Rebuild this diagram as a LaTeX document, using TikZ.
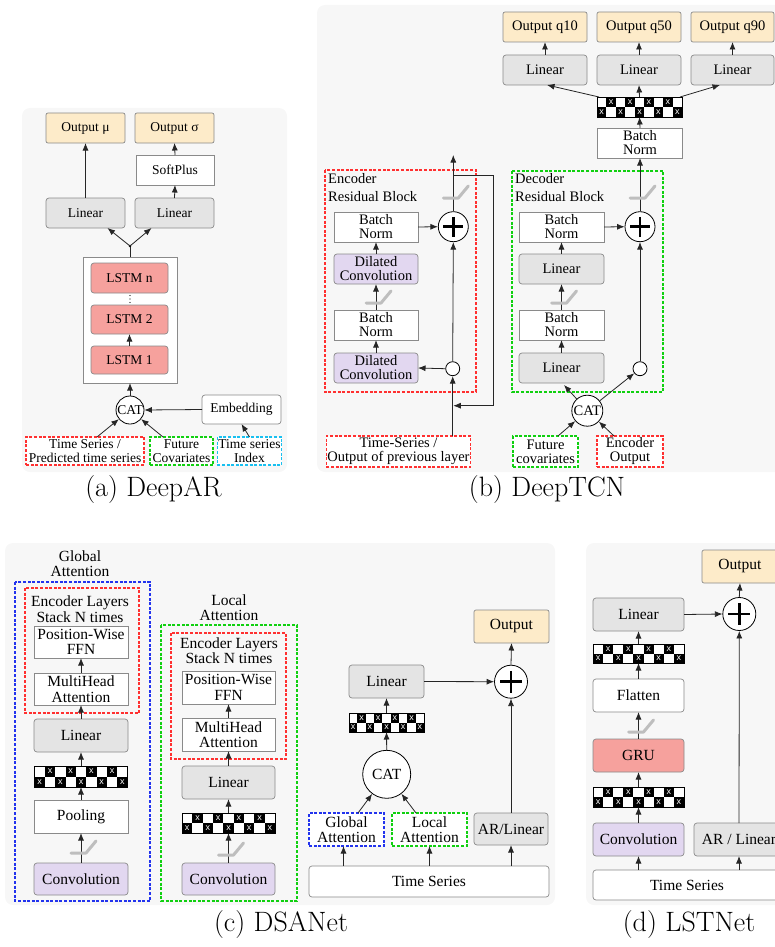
\documentclass[tikz,border=0pt]{standalone}
\usepackage{fontspec}
\newfontfamily\tf{Liberation Serif}
\newfontfamily\xf{Liberation Sans}
\usetikzlibrary{arrows.meta,calc}
\definecolor{bgc}{HTML}{F7F7F7}
\definecolor{bgray}{HTML}{8A8A8A}
\definecolor{agray}{HTML}{262626}
\definecolor{ofill}{HTML}{FDEBC9}
\definecolor{gfill}{HTML}{E4E4E4}
\definecolor{rfill}{HTML}{F6A19D}
\definecolor{pfill}{HTML}{E2D7F0}
\definecolor{dred}{HTML}{FF3030}
\definecolor{dgreen}{HTML}{10D010}
\definecolor{dblue}{HTML}{2233EE}
\definecolor{dcyan}{HTML}{18C0F0}
\definecolor{relugray}{HTML}{BEBEBE}
\tikzset{
  box/.style={draw=bgray, line width=0.7pt, align=center, inner sep=1pt, outer sep=0pt},
  sqbox/.style={box, fill=white},
  wrbox/.style={box, fill=white, rounded corners=3pt},
  gbox/.style={box, fill=gfill, rounded corners=3pt},
  obox/.style={box, fill=ofill, rounded corners=2pt},
  rbox/.style={box, fill=rfill, rounded corners=3pt},
  pbox/.style={box, fill=pfill, rounded corners=3pt},
  dbox/.style={draw=#1, dash pattern=on 3pt off 1.6pt, line width=1.15pt, fill=white, align=center, inner sep=1pt, outer sep=0pt},
  grp/.style={draw=#1, dash pattern=on 3pt off 1.6pt, line width=1.15pt},
  arr/.style={draw=agray, line width=0.8pt, -{Latex[length=7.5pt,width=6pt]}},
  ln/.style={draw=agray, line width=0.8pt},
  catn/.style={circle, draw=black, line width=0.8pt, fill=white, inner sep=0pt},
  relu/.style={draw=relugray, line width=3pt, line cap=round, line join=round},
  sz/.style 2 args={minimum width=#1, minimum height=#2},
  fa/.style={font=\tf\fontsize{13.5}{13.5}\selectfont},
  fb/.style={font=\tf\fontsize{14.5}{14}\selectfont},
  fc/.style={font=\tf\fontsize{15.5}{15.5}\selectfont},
  captxt/.style={font=\fontsize{28}{28}\selectfont},
  lbl/.style={inner sep=0pt, align=center}
}
\newcommand\dropblock[5]{%
  \node[sz={#4}{#5}, inner sep=0pt, outer sep=0pt, fill=white] (#1) at (#2,#3) {};
  \foreach \i in {0,...,8}{\foreach \j in {0,1}{%
    \pgfmathsetmacro\xa{#2-#4/2+\i*#4/9}%
    \pgfmathsetmacro\xb{\xa+#4/9}%
    \pgfmathsetmacro\ya{#3-#5/2+\j*#5/2}%
    \pgfmathsetmacro\yb{\ya+#5/2}%
    \pgfmathtruncatemacro\pp{mod(\i+\j,2)}%
    \ifnum\pp=1
      \fill[black] (\xa,\ya) rectangle (\xb,\yb);
      \node[inner sep=0pt, text=white, font=\xf\fontsize{9}{9}\selectfont] at ({(\xa+\xb)/2},{(\ya+\yb)/2}) {x};
    \fi
  }}
  \draw[line width=0.6pt] (#1.north west) rectangle (#1.south east);
}
\newcommand\plusnode[4]{%
  \node[catn, minimum size=#4] (#1) at (#2,#3) {};
  \draw[line width=2.6pt] ($(#1.center)+(-0.33*#4,0)$) -- ($(#1.center)+(0.33*#4,0)$);
  \draw[line width=2.6pt] ($(#1.center)+(0,-0.33*#4)$) -- ($(#1.center)+(0,0.33*#4)$);
}
\newcommand\relusym[2]{%
  \draw[relu] ({#1-10},{#2+6}) -- ({#1+5},{#2+6}) -- ({#1+15},{#2-6});
}
\begin{document}
\begin{tikzpicture}[x=1pt,y=-1pt]
\useasboundingbox (0,0) rectangle (775,947);
% backgrounds
\fill[bgc, rounded corners=8pt] (22,108) rectangle (287,472);
\fill[bgc, rounded corners=8pt] (317,5) rectangle (790,472);
\fill[bgc, rounded corners=8pt] (5,543) rectangle (555,905);
\fill[bgc, rounded corners=8pt] (586,543) rectangle (790,905);

% ================= (a) DeepAR
\begin{scope}[every node/.append style={fa}]
\node[obox, sz={79}{30}] (a-o1) at (85.5,128) {Output μ};
\node[obox, sz={79}{30}] (a-o2) at (174.5,128) {Output σ};
\node[sqbox, sz={78}{30}] (a-sp) at (175,170) {SoftPlus};
\node[gbox, sz={79}{30}] (a-l1) at (85.5,213) {Linear};
\node[gbox, sz={79}{30}] (a-l2) at (174.5,213) {Linear};
\coordinate (a-j) at (130,246);
\node[sqbox, sz={94}{126}] (a-stk) at (130,320) {};
\node[rbox, sz={77}{30}] (a-lsn) at (129.5,278) {LSTM n};
\node[rbox, sz={77}{29}] (a-ls2) at (129.5,319.5) {LSTM 2};
\node[rbox, sz={77}{28}] (a-ls1) at (129.5,360) {LSTM 1};
\node[catn, minimum size=28] (a-cat) at (130,410) {CAT};
\node[wrbox, sz={79}{29}] (a-emb) at (241.5,409.5) {Embedding};
\node[dbox=dred, sz={118}{28}] (a-ts) at (85,451) {Time Series /\\Predicted time series};
\node[dbox=dgreen, sz={63}{28}] (a-fc) at (181.5,451) {Future\\Covariates};
\node[dbox=dcyan, sz={63}{28}] (a-idx) at (249.5,451) {Time series\\Index};
\end{scope}
\foreach \k in {295.5,299,302.5} \fill (130,\k) circle (0.7);
\draw[arr] (a-l1.north) -- (a-o1.south);
\draw[arr] (a-l2.north) -- (a-sp.south);
\draw[arr] (a-sp.north) -- (a-o2.south);
\draw[ln] (a-stk.north) -- (a-j);
\fill (a-j) circle (1.3);
\draw[arr] (a-j) -- ([xshift=22pt]a-l1.south);
\draw[arr] (a-j) -- ([xshift=-23pt]a-l2.south);
\draw[arr] (a-ls1.north) -- (a-ls2.south);
\draw[arr] (a-cat.north) -- (a-stk.south);
\draw[arr] (a-emb.west) -- (a-cat.east);
\draw[arr] ([xshift=12pt]a-ts.north) -- (a-cat);
\draw[arr] ([xshift=-18.5pt]a-fc.north) -- (a-cat);
\draw[arr] (a-idx.north) -- (a-emb.south);

% ================= (b) DeepTCN
\draw[grp=dred] (325,170) rectangle (476,392);
\draw[grp=dgreen] (512,171) rectangle (663,392);
\begin{scope}[every node/.append style={fb}]
\node[obox, sz={84}{30}] (b-o1) at (545,27) {Output q10};
\node[obox, sz={84}{30}] (b-o2) at (639,27) {Output q50};
\node[obox, sz={83}{30}] (b-o3) at (732.5,27) {Output q90};
\node[gbox, sz={84}{30}] (b-l1) at (545,70) {Linear};
\node[gbox, sz={84}{30}] (b-l2) at (639,70) {Linear};
\node[gbox, sz={83}{30}] (b-l3) at (732.5,70) {Linear};
\node[sqbox, sz={85}{30}] (b-bn) at (640,143) {Batch\\Norm};
\node[lbl, anchor=west] (b-encl1) at (328,179) {Encoder};
\node[lbl, anchor=west] (b-encl2) at (328,197) {Residual Block};
\node[sqbox, sz={84}{30}] (b-ebn1) at (376,227) {Batch\\Norm};
\node[pbox, sz={84}{30}] (b-edc1) at (376,269) {Dilated\\Convolution};
\node[sqbox, sz={84}{30}] (b-ebn2) at (376,325) {Batch\\Norm};
\node[pbox, sz={84}{30}] (b-edc2) at (376,368) {Dilated\\Convolution};
\node[catn, minimum size=14] (b-esc) at (452.7,368.7) {};
\node[dbox=dred, sz={143}{31}] (b-ts) at (398.5,451.5) {Time-Series /\\Output of previous layer};
\node[lbl, anchor=west] (b-decl1) at (515,179) {Decoder};
\node[lbl, anchor=west] (b-decl2) at (515,197) {Residual Block};
\node[sqbox, sz={85}{30}] (b-dbn1) at (561.5,227) {Batch\\Norm};
\node[gbox, sz={85}{30}] (b-dl1) at (561.5,269) {Linear};
\node[sqbox, sz={85}{30}] (b-dbn2) at (561.5,325) {Batch\\Norm};
\node[gbox, sz={85}{30}] (b-dl2) at (561.5,368) {Linear};
\node[catn, minimum size=14] (b-dsc) at (640,368.7) {};
\node[catn, minimum size=31] (b-dcat) at (587.3,410.7) {CAT};
\node[dbox=dgreen, sz={65}{31}] (b-fc) at (545.5,451.5) {Future\\covariates};
\node[dbox=dred, sz={66}{31}] (b-eo) at (630,451.5) {Encoder\\Output};
\end{scope}
\dropblock{b-drop}{639.5}{107}{85}{20}
\plusnode{b-ep}{453.3}{226.7}{30}
\plusnode{b-dp}{640}{226.7}{30}
\coordinate (b-etop) at (453.3,155);
\coordinate (b-ebr) at (453.3,175.7);
\coordinate (b-efb) at (453.3,405.7);
% encoder arrows
\draw[arr] (b-ebn1.east) -- (b-ep.west);
\draw[arr] (b-edc1.north) -- (b-ebn1.south);
\draw[arr] (b-ebn2.north) -- (b-edc1.south);
\draw[arr] (b-edc2.north) -- (b-ebn2.south);
\draw[arr] (b-esc.west) -- (b-edc2.east);
\draw[arr] (b-esc.north) -- (b-ep.south);
\draw[arr] (b-esc.south |- b-ts.north) -- (b-esc.south);
\draw[arr] (b-ep.north) -- (b-etop);
\draw[arr] (b-ebr) -- (493.3,175.7) -- (493.3,405.7) -- (b-efb);
\relusym{376}{297}
\relusym{453.3}{192}
% decoder arrows
\draw[arr] (b-dbn1.east) -- (b-dp.west);
\draw[arr] (b-dl1.north) -- (b-dbn1.south);
\draw[arr] (b-dbn2.north) -- (b-dl1.south);
\draw[arr] (b-dl2.north) -- (b-dbn2.south);
\draw[arr] (b-dsc.north) -- (b-dp.south);
\draw[arr] (b-dp.north) -- (b-bn.south);
\draw[arr] (b-dcat) -- ([xshift=2.5pt,yshift=-2pt]b-dl2.south);
\draw[arr] (b-dcat) -- (b-dsc);
\draw[arr] ([xshift=12.5pt]b-fc.north) -- (b-dcat);
\draw[arr] ([xshift=-16pt]b-eo.north) -- (b-dcat);
\relusym{561.5}{297}
\relusym{640}{192}
% head
\draw[arr] (b-bn.north) -- (b-drop.south);
\draw[arr] ([xshift=2pt]b-drop.north west) -- ([xshift=2pt]b-l1.south);
\draw[arr] (b-drop.north) -- (b-l2.south);
\draw[arr] ([xshift=-2pt]b-drop.north east) -- ([xshift=-12.5pt]b-l3.south);
\draw[arr] (b-l1.north) -- (b-o1.south);
\draw[arr] (b-l2.north) -- (b-o2.south);
\draw[arr] (b-l3.north) -- (b-o3.south);

% ================= (c) DSANet
\draw[grp=dblue] (15,582) rectangle (150,901);
\draw[grp=dred] (25,588) rectangle (139,713);
\draw[grp=dgreen] (161,625) rectangle (297,901);
\draw[grp=dred] (171,633) rectangle (286,759);
\begin{scope}[every node/.append style={fc}]
\node[lbl] (c-gtitle) at (80,563.5) {Global\\Attention};
\node[lbl] (c-genc) at (80,609) {Encoder Layers\\Stack N times};
\node[sqbox, sz={94}{32}] (c-gffn) at (81,642) {Position-Wise\\FFN};
\node[sqbox, sz={94}{32}] (c-gmha) at (81,689) {MultiHead\\Attention};
\node[gbox, sz={94}{33}] (c-glin) at (81,735.5) {Linear};
\node[sqbox, sz={94}{33}] (c-gpool) at (81,816.5) {Pooling};
\node[pbox, sz={94}{32}] (c-gconv) at (81,879) {Convolution};
\node[lbl] (c-ltitle) at (229,607.5) {Local\\Attention};
\node[lbl] (c-lenc) at (229,650.5) {Encoder Layers\\Stack N times};
\node[sqbox, sz={93}{33}] (c-lffn) at (228.5,687.5) {Position-Wise\\FFN};
\node[sqbox, sz={93}{33}] (c-lmha) at (228.5,734.5) {MultiHead\\Attention};
\node[gbox, sz={93}{33}] (c-llin) at (228.5,782.5) {Linear};
\node[pbox, sz={93}{32}] (c-lconv) at (228.5,879) {Convolution};
\node[obox, sz={75}{33}] (c-out) at (511.5,626.5) {Output};
\node[gbox, sz={75}{33}] (c-lin) at (386.5,681.5) {Linear};
\node[catn, minimum size=48] (c-cat) at (386.7,774.3) {CAT};
\node[dbox=dblue, sz={75}{33}] (c-ga) at (346.5,829.5) {Global\\Attention};
\node[dbox=dgreen, sz={75}{33}] (c-la) at (429.5,829.5) {Local\\Attention};
\node[gbox, sz={74}{32}] (c-ar) at (511,829) {AR/Linear};
\node[wrbox, sz={240}{31}] (c-ts) at (429,881.5) {Time Series};
\end{scope}
\dropblock{c-gdrop}{81}{776.5}{93}{21}
\dropblock{c-ldrop}{228.5}{823}{93}{20}
\dropblock{c-drop}{386.5}{722.5}{75}{19}
\plusnode{c-plus}{511}{681.7}{33}
\draw[arr] (c-gconv.north) -- (c-gpool.south);
\draw[arr] (c-gpool.north) -- (c-gdrop.south);
\draw[arr] (c-gdrop.north) -- (c-glin.south);
\draw[arr] (c-glin.north) -- (c-gmha.south);
\draw[arr] (c-gmha.north) -- (c-gffn.south);
\relusym{81}{847}
\draw[arr] (c-lconv.north) -- (c-ldrop.south);
\draw[arr] (c-ldrop.north) -- (c-llin.south);
\draw[arr] (c-llin.north) -- (c-lmha.south);
\draw[arr] (c-lmha.north) -- (c-lffn.south);
\relusym{228.5}{849}
\draw[arr] ([xshift=-3pt]c-ga.south |- c-ts.north) -- ([xshift=-3pt]c-ga.south);
\draw[arr] (c-la.south |- c-ts.north) -- (c-la.south);
\draw[arr] (c-ar.south |- c-ts.north) -- (c-ar.south);
\draw[arr] ([xshift=11.5pt]c-ga.north) -- (c-cat);
\draw[arr] ([xshift=-13.5pt]c-la.north) -- (c-cat);
\draw[arr] (c-cat.north) -- (c-drop.south);
\draw[arr] (c-drop.north) -- (c-lin.south);
\draw[arr] (c-lin.east) -- (c-plus.west);
\draw[arr] (c-ar.north) -- (c-plus.south);
\draw[arr] (c-plus.north) -- (c-out.south);

% ================= (d) LSTNet
\begin{scope}[every node/.append style={fc}]
\node[obox, sz={76}{33}] (d-out) at (740,566.5) {Output};
\node[gbox, sz={91}{33}] (d-lin) at (638.5,614.5) {Linear};
\node[wrbox, sz={91}{33}] (d-flat) at (638.5,695.5) {Flatten};
\node[rbox, sz={91}{33}] (d-gru) at (638.5,755.5) {GRU};
\node[pbox, sz={91}{33}] (d-conv) at (638.5,839.5) {Convolution};
\node[gbox, sz={90}{33}] (d-ar) at (739,839.5) {AR / Linear};
\node[wrbox, sz={188}{30}] (d-ts) at (687,885) {Time Series};
\end{scope}
\dropblock{d-drop1}{638.5}{653.5}{91}{19}
\dropblock{d-drop2}{638.5}{797}{91}{20}
\plusnode{d-plus}{739.3}{614}{33}
\draw[arr] (d-conv.south |- d-ts.north) -- (d-conv.south);
\draw[arr] (d-ar.south |- d-ts.north) -- (d-ar.south);
\draw[arr] (d-conv.north) -- (d-drop2.south);
\draw[arr] (d-drop2.north) -- (d-gru.south);
\draw[arr] (d-gru.north) -- (d-flat.south);
\relusym{638.5}{726}
\draw[arr] (d-flat.north) -- (d-drop1.south);
\draw[arr] (d-drop1.north) -- (d-lin.south);
\draw[arr] (d-lin.east) -- (d-plus.west);
\draw[arr] (d-ar.north) -- (d-plus.south);
\draw[arr] (d-plus.north) -- (d-out.south);

% captions
\node[captxt] (cap-a) at (153.5,490) {(a) DeepAR};
\node[captxt] (cap-b) at (547,490) {(b) DeepTCN};
\node[captxt] (cap-c) at (281,925) {(c) DSANet};
\node[captxt] (cap-d) at (689,925) {(d) LSTNet};
\end{tikzpicture}
\end{document}
